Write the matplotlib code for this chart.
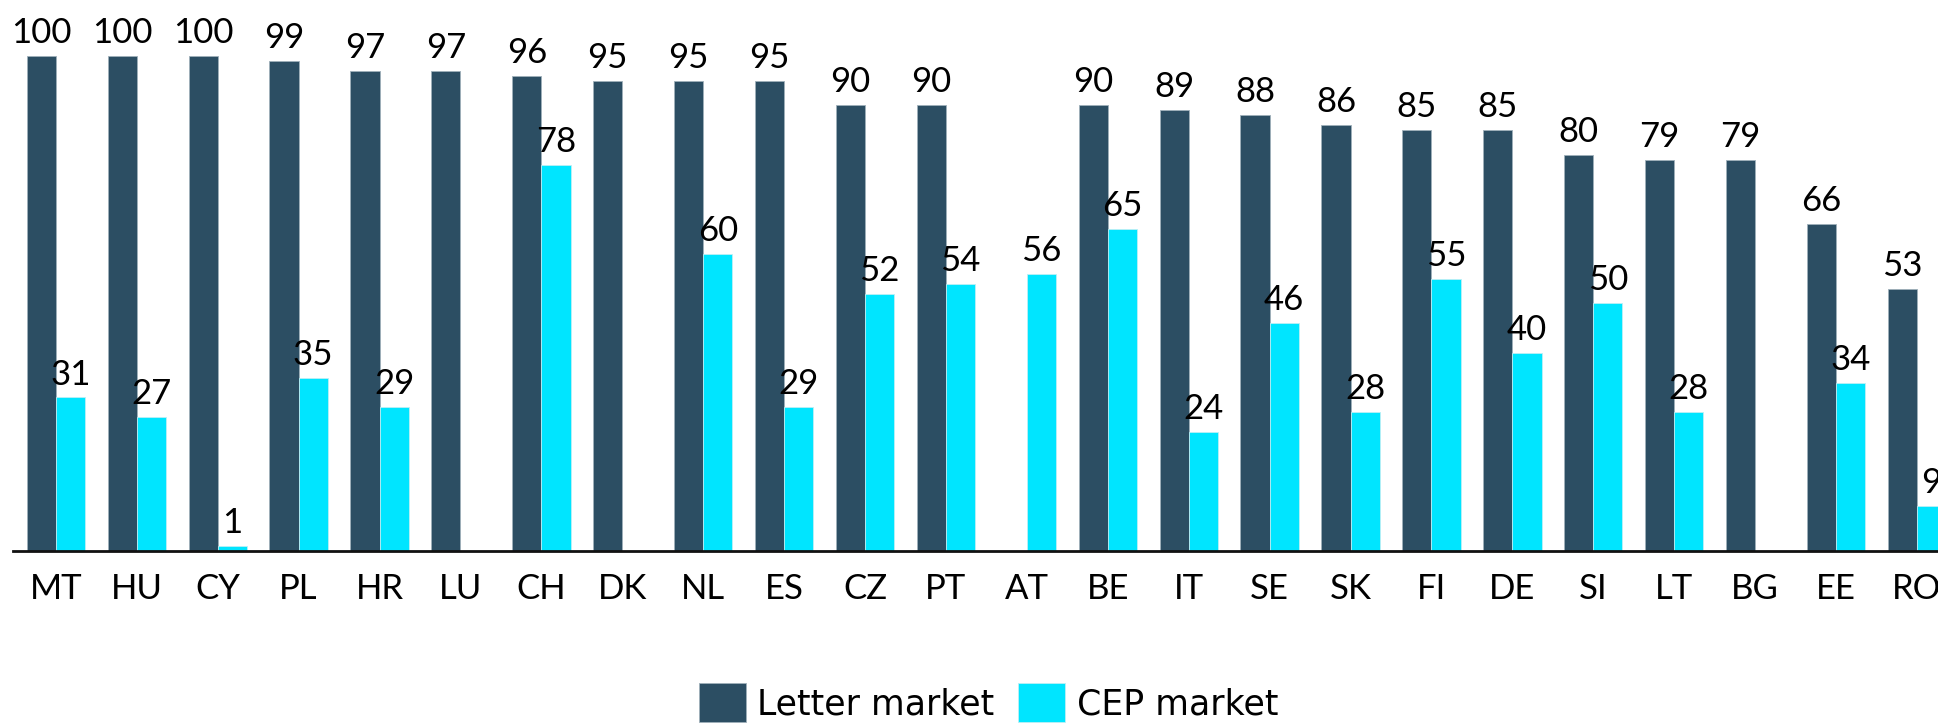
import matplotlib.pyplot as plt
import numpy as np

plt.rcParams['font.family'] = ['Lato', 'DejaVu Sans']

countries = ['MT', 'HU', 'CY', 'PL', 'HR', 'LU', 'CH', 'DK', 'NL', 'ES', 'CZ', 'PT',
             'AT', 'BE', 'IT', 'SE', 'SK', 'FI', 'DE', 'SI', 'LT', 'BG', 'EE', 'RO']
letter = [100, 100, 100, 99, 97, 97, 96, 95, 95, 95, 90, 90,
          np.nan, 90, 89, 88, 86, 85, 85, 80, 79, 79, 66, 53]
cep = [31, 27, 1, 35, 29, np.nan, 78, np.nan, 60, 29, 52, 54,
       56, 65, 24, 46, 28, 55, 40, 50, 28, np.nan, 34, 9]

dark = '#2C4E63'
cyan = '#00E5FF'

fig = plt.figure(figsize=(19.38, 7.23), dpi=100)
ax = fig.add_axes([0.0067, 0.238, 0.9933, 0.762])

x = np.arange(len(countries))
w = 0.36
b1 = ax.bar(x - w / 2, letter, w, color=dark, edgecolor='#9FB0BA', linewidth=0.6, label='Letter market')
b2 = ax.bar(x + w / 2, cep, w, color=cyan, edgecolor='#BDEFF5', linewidth=0.6, label='CEP market')

for bars, vals in [(b1, letter), (b2, cep)]:
    for rect, v in zip(bars, vals):
        if np.isnan(v):
            continue
        ax.annotate(f'{v:.0f}', (rect.get_x() + rect.get_width() / 2, v),
                    xytext=(0, 5), textcoords='offset points',
                    ha='center', va='bottom', fontsize=25, annotation_clip=False)

ax.set_xlim(-0.53, 23.26)
ax.set_ylim(0, 111.3)
ax.set_xticks(x)
ax.set_xticklabels(countries, fontsize=25)
ax.tick_params(axis='x', length=0, pad=16)
ax.set_yticks([])
for s in ['top', 'right', 'left']:
    ax.spines[s].set_visible(False)
ax.spines['bottom'].set_linewidth(2)
ax.spines['bottom'].set_color('#111111')

fig.legend(loc='center', bbox_to_anchor=(0.51, 0.028), ncol=2, frameon=False,
           prop={'family': ['DejaVu Sans'], 'size': 25},
           handlelength=1.36, handleheight=1.36, handletextpad=0.33,
           columnspacing=0.67, borderpad=0)

fig.savefig('out.png', dpi=100)
